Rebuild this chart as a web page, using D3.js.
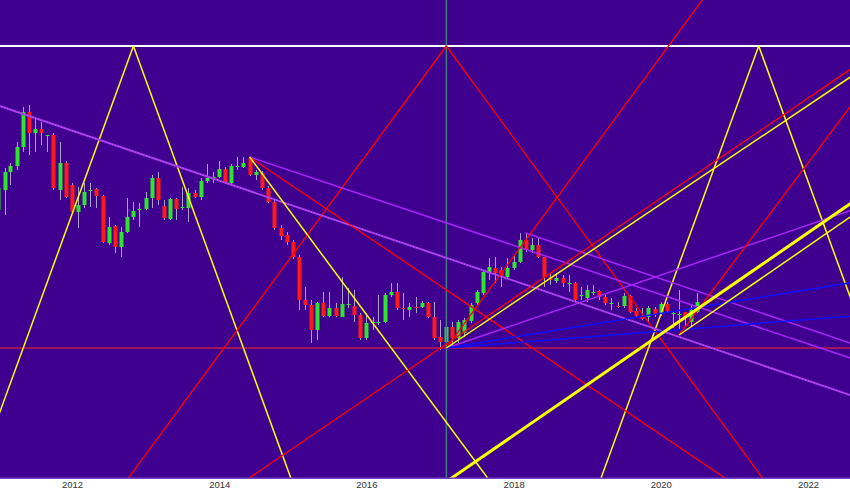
<!DOCTYPE html>
<html>
<head>
<meta charset="utf-8">
<script src="https://cdn.jsdelivr.net/npm/d3@7"></script>
<style>
  html, body { margin: 0; padding: 0; background: #fff; }
  svg { display: block; }
</style>
</head>
<body>
<svg width="850" height="491"></svg>
<script>
const width = 850, height = 491, plotH = 478;
const svg = d3.select("svg");
const parseM = d3.utcParse("%Y-%m");

// monthly candles, Jan 2011 .. Jul 2020
const months = d3.utcMonth.range(new Date(Date.UTC(2011, 0, 1)), new Date(Date.UTC(2020, 7, 1)));
const open = [97.5,102.5,107,108.5,113.25,122,116.75,117.75,116,116.25,102.5,109.25,103.75,97,98.75,102.25,102.75,101,89.25,93.5,
  88.25,92,95.75,97.5,97.75,100.5,105.5,98.5,95.25,100.25,98,98,101.75,100.75,104.75,105.5,105.75,107.75,104.25,108.25,
  108.25,110.5,106.25,106.75,103,99.5,93,91.25,89.5,85.75,75,73.75,67.5,74.25,71,73,70.75,73.75,73.5,71.25,
  65.5,69.25,69.25,69.5,76.25,77,73,72.5,73.25,73.25,74.25,70.75,65.75,64.5,68.25,65.5,66.75,69.75,74.25,76.75,
  82,83,82.5,80.75,83,84.5,90,87.5,88.75,85.75,80.75,79.75,80.5,79,79.25,76,75.5,76.75,77.25,75.75,
  74,73.5,73.5,76,72.25,71,70.75,72.75,71.5,74,71.5,71.25,72,69.5,72];
const high = [105,108,109.25,114.5,123.25,123.75,120.5,119.5,116.25,116.75,114.5,109.75,104.25,103.25,104.25,104.25,103,101.25,95.75,93.75,
  93.25,100.5,99.5,99.25,102,106.25,107,100,100.5,100.5,103.25,103,102.5,105.5,109,107,109.75,108.25,109,110.75,
  110.75,110.75,107.5,107.25,103.5,100,93.75,92,90,86.25,78.25,75,74.5,77,77,74.25,80.75,78,77.5,71.75,
  71.75,70.75,76.25,76.75,79.25,79.25,76.75,74.25,75.75,74.75,74.5,74.5,70,70,69.5,70,70.5,74.25,77.5,82.5,
  85.5,85.75,83.25,85.5,86.25,91.75,91.75,90.5,90.5,85.75,81.75,81.75,81.25,81.25,79.5,78.25,78.75,78.75,77.5,76.25,
  75.5,74.5,76.75,76.25,73,73,73.5,73.25,74.5,74.5,72,77.5,72,73.75,76.75];
const low = [96.25,96.25,103.75,107.5,112,111.25,112,113.75,112,102.5,100,100.5,96.75,93,98,98.25,98,89.25,88.75,86.75,
  85.75,91.75,95,93.25,97.5,98,98.75,95,95,95,97.5,94.5,100.5,100,104.25,104.25,105.5,104,104,107.5,
  108,106,105,102.5,99.25,92.5,90,88.75,85.25,72.5,72.5,64.25,65,70.75,70.75,70.75,70.75,73,69.5,65,
  65,67.5,68.75,69.25,75.75,72.5,70,70.75,71.75,73,70.5,65,62.5,62.5,63.25,64.25,65.75,69.25,73.75,76.25,
  80,79.25,78.25,80.5,82.5,84.25,87,86.75,85.5,78.25,78.75,79.25,78.25,77,74.5,75,74.5,76.25,75,73.75,
  72.5,73,73,71.75,70.5,70,69.5,70.75,71,71.75,68,67.5,68.5,68.25,71.75];
const close = [103,107,108.5,113.25,122,116.75,117.75,116.75,116.25,103,109.25,100.75,97,98.75,102,102.5,101,89.5,93.25,88.25,
  92,95.75,97.25,97.75,100.5,105.5,100,95.5,100.25,97.75,98.25,101.75,100.75,104.75,105.5,105.75,107.75,104.25,108.5,108.5,
  109.25,106.25,107,103,99.5,93,91,89.5,85.75,75,73.75,67.5,74.25,71,73,71,74,74,71.25,65.5,
  69.25,69.5,69.5,76.25,77,73,72.75,73.25,73,74.25,70.75,65.5,64.5,68.25,65.5,69.5,70,73.75,77,82,
  83.25,81.75,80.75,83,84.5,90,87.5,88.75,85.75,80.75,80,80.5,79.25,79.25,75,76.25,77.5,77,75.75,74.25,
  74.25,73.25,76,72,71,70.25,73,71.25,74,72.25,71.75,71.5,70.75,72.5,74.5];

// horizontal levels and the vertical cycle marker
const levels = [{ price: 138.5, kind: "white" }, { price: 63, kind: "crimson" }];
const markers = ["2017-02"];

// drawn lines: a -> b, "ray" runs on past b, "line" runs both ways
const trendLines = [
  { a: ["2012-11", 138.5], b: ["2011-01", 46], ext: "ray", kind: "yellow" },
  { a: ["2012-11", 138.5], b: ["2014-09", 46], ext: "ray", kind: "yellow" },
  { a: ["2017-02", 138.5], b: ["2015-04", 92.5], ext: "ray", kind: "red" },
  { a: ["2017-02", 138.5], b: ["2018-12", 92.5], ext: "ray", kind: "red" },
  { a: ["2021-05", 138.5], b: ["2019-07", 46], ext: "ray", kind: "yellow" },
  { a: ["2021-05", 138.5], b: ["2023-03", 46], ext: "ray", kind: "yellow" },
  { a: ["2011-01", 123.6], b: ["2020-07", 64.2], ext: "line", kind: "dotted" },
  { a: ["2014-06", 110.75], b: ["2020-06", 73.8], ext: "ray", kind: "purple" },
  { a: ["2014-06", 110.75], b: ["2017-06", 73.45], ext: "ray", kind: "red" },
  { a: ["2014-06", 110.75], b: ["2016-01", 71.4], ext: "ray", kind: "yellow" },
  { a: ["2018-03", 91.75], b: ["2020-06", 77.7], ext: "ray", kind: "purple" },
  { a: ["2017-02", 63], b: ["2020-02", 81.75], ext: "ray", kind: "purple" },
  { a: ["2017-02", 63], b: ["2020-02", 71.9], ext: "ray", kind: "blue" },
  { a: ["2017-02", 63], b: ["2020-02", 67.35], ext: "ray", kind: "blue" },
  { a: ["2017-02", 63], b: ["2018-02", 88], ext: "ray", kind: "red" },
  { a: ["2017-02", 64], b: ["2020-02", 101.5], ext: "line", kind: "red" },
  { a: ["2017-02", 63], b: ["2020-02", 100], ext: "ray", kind: "yellow" },
  { a: ["2020-04", 66.25], b: ["2021-01", 84.75], ext: "ray", kind: "red" },
  { a: ["2020-04", 66.25], b: ["2021-01", 75.8], ext: "ray", kind: "yellow" },
  { a: ["2020-03", 68.55], b: ["2021-11", 89.7], ext: "line", kind: "thick" }
];

const style = {
  white:   { stroke: "#ffffff", w: 2 },
  crimson: { stroke: "#a0145a", w: 2 },
  yellow:  { stroke: "#ffff00", w: 1.5 },
  thick:   { stroke: "#ffff00", w: 3 },
  red:     { stroke: "#ff0000", w: 1.3 },
  purple:  { stroke: "#a526f5", w: 1.5 },
  blue:    { stroke: "#1010ff", w: 1.5 },
  dotted:  { stroke: "#a035f0", w: 2 }
};

const x = d3.scaleUtc()
  .domain([new Date(Date.UTC(2011, 0, 9)), new Date(Date.UTC(2022, 6, 28))])
  .range([0, width]);
const y = d3.scaleLinear().domain([30.5, 150]).range([plotH, 0]);

svg.append("defs").append("clipPath").attr("id", "plot")
  .append("rect").attr("width", width).attr("height", plotH);

svg.append("rect").attr("width", width).attr("height", plotH).attr("fill", "#3f0090");

const plot = svg.append("g").attr("clip-path", "url(#plot)");

// candles
const candles = plot.append("g").selectAll("g")
  .data(months.map((m, i) => ({ m, o: open[i], h: high[i], l: low[i], c: close[i] })))
  .join("g");
candles.append("line")
  .attr("x1", d => Math.round(x(d.m)) + 0.5).attr("x2", d => Math.round(x(d.m)) + 0.5)
  .attr("y1", d => y(d.h)).attr("y2", d => y(d.l))
  .attr("stroke", "#a9a2c4").attr("stroke-width", 1);
candles.append("rect")
  .attr("x", d => Math.round(x(d.m)) - 1.5)
  .attr("width", 4)
  .attr("y", d => y(Math.max(d.o, d.c)))
  .attr("height", d => Math.max(1, Math.abs(y(d.o) - y(d.c))))
  .attr("fill", d => d.c >= d.o ? "#2fe32f" : "#ff1a1a");

// levels + marker
plot.selectAll(".level").data(levels).join("line")
  .attr("x1", 0).attr("x2", width)
  .attr("y1", d => y(d.price)).attr("y2", d => y(d.price))
  .attr("stroke", d => style[d.kind].stroke).attr("stroke-width", d => style[d.kind].w);
plot.selectAll(".marker").data(markers).join("line")
  .attr("x1", d => x(parseM(d))).attr("x2", d => x(parseM(d)))
  .attr("y1", 0).attr("y2", plotH)
  .attr("stroke", "#3c7f78").attr("stroke-width", 1.5);

function seg(l) {
  const p1 = [x(parseM(l.a[0])), y(l.a[1])], p2 = [x(parseM(l.b[0])), y(l.b[1])];
  const dx = p2[0] - p1[0], dy = p2[1] - p1[1], k = 3000 / Math.hypot(dx, dy);
  const end = [p1[0] + dx * k, p1[1] + dy * k];
  const start = l.ext === "line" ? [p1[0] - dx * k, p1[1] - dy * k] : p1;
  return [start, end];
}
const lineGen = d3.line();

plot.append("g").selectAll("path").data(trendLines).join("path")
  .attr("d", d => lineGen(seg(d)))
  .attr("fill", "none")
  .attr("stroke", d => style[d.kind].stroke)
  .attr("stroke-width", d => style[d.kind].w);
// dotted overlay on the long trend line
plot.append("g").selectAll("path").data(trendLines.filter(d => d.kind === "dotted")).join("path")
  .attr("d", d => lineGen(seg(d)))
  .attr("fill", "none")
  .attr("stroke", "#e8a0b0")
  .attr("stroke-opacity", 0.55)
  .attr("stroke-width", 1)
  .attr("stroke-dasharray", "1,2");

// bottom axis
svg.append("rect").attr("y", plotH - 0.5).attr("width", width).attr("height", 1.5).attr("fill", "#7442c4");
const axis = svg.append("g").attr("transform", `translate(0,${plotH + 1})`)
  .call(d3.axisBottom(x).ticks(d3.utcYear.every(2)).tickFormat(d3.utcFormat("%Y")).tickSize(0).tickPadding(2));
axis.select(".domain").remove();
axis.selectAll("text").attr("fill", "#333").style("font-family", "Liberation Sans, Arial, sans-serif").style("font-size", "9.5px");
</script>
</body>
</html>
